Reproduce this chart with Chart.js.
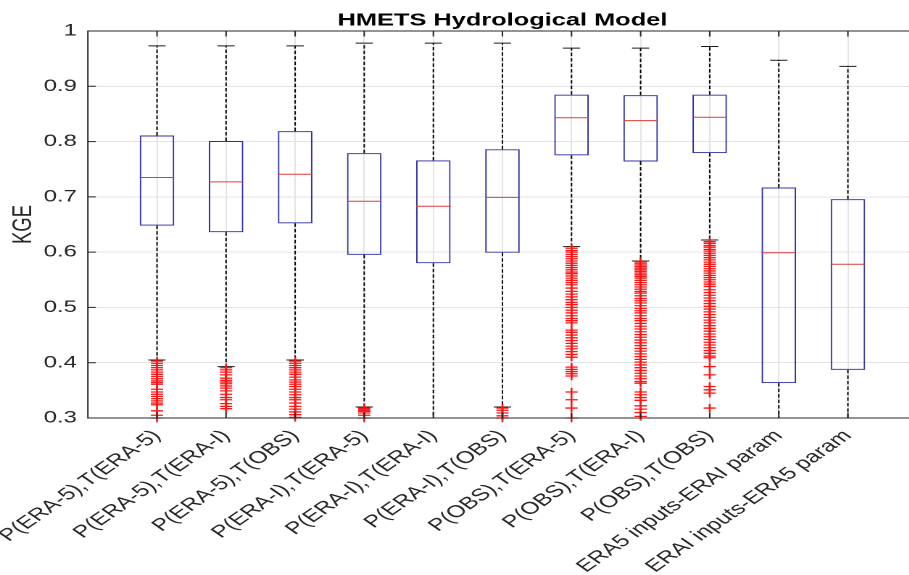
<!DOCTYPE html>
<html>

<head>
    <title>HMETS Hydrological Model</title>
    <script src="https://cdn.jsdelivr.net/npm/chart.js"></script>
    <style>
        html,
        body {
            margin: 0;
            padding: 0;
            background-color: white;
            overflow: hidden;
        }

        /* the source figure is stretched sideways, so the chart is drawn narrow and widened */
        .stretch {
            width: 640px;
            height: 575px;
            transform: scaleX(1.45);
            transform-origin: 0 0;
        }
    </style>
</head>

<body>
    <div class="stretch">
        <canvas id="kgeChart" width="640" height="575"></canvas>
    </div>

    <script>
        const categories = [
            'P(ERA-5),T(ERA-5)', 'P(ERA-5),T(ERA-I)', 'P(ERA-5),T(OBS)',
            'P(ERA-I),T(ERA-5)', 'P(ERA-I),T(ERA-I)', 'P(ERA-I),T(OBS)',
            'P(OBS),T(ERA-5)', 'P(OBS),T(ERA-I)', 'P(OBS),T(OBS)',
            'ERA5 inputs-ERAI param', 'ERAI inputs-ERA5 param'
        ];

        const whiskerHigh = [0.973, 0.973, 0.973, 0.978, 0.978, 0.978, 0.969, 0.969, 0.972, 0.947, 0.936];
        const q3 = [0.811, 0.801, 0.819, 0.779, 0.766, 0.786, 0.885, 0.884, 0.885, 0.717, 0.696];
        const median = [0.735, 0.727, 0.741, 0.692, 0.683, 0.699, 0.843, 0.838, 0.844, 0.599, 0.578];
        const q1 = [0.648, 0.636, 0.652, 0.595, 0.580, 0.599, 0.775, 0.764, 0.779, 0.363, 0.387];
        const whiskerLow = [0.405, 0.393, 0.405, 0.320, 0.300, 0.320, 0.610, 0.584, 0.622, 0.290, 0.290];

        const outliers = [
            [0.403, 0.399, 0.395, 0.391, 0.387, 0.383, 0.379, 0.375, 0.371, 0.367, 0.364, 0.361,
                0.352, 0.347, 0.343, 0.339, 0.335, 0.331, 0.327, 0.324, 0.313, 0.305, 0.300],
            [0.391, 0.387, 0.383, 0.378, 0.372, 0.368, 0.365, 0.362, 0.358, 0.354, 0.349, 0.343,
                0.337, 0.333, 0.326, 0.321, 0.317],
            [0.403, 0.399, 0.395, 0.391, 0.387, 0.383, 0.379, 0.374, 0.369, 0.365, 0.361, 0.357,
                0.352, 0.347, 0.342, 0.337, 0.333, 0.327, 0.321, 0.316, 0.311, 0.306, 0.301],
            [0.318, 0.316, 0.314, 0.312, 0.309, 0.305, 0.300],
            [],
            [0.318, 0.314, 0.309, 0.304, 0.300],
            [0.607, 0.603, 0.600, 0.596, 0.592, 0.588, 0.584, 0.580, 0.576, 0.572, 0.568, 0.564,
                0.561, 0.557, 0.553, 0.549, 0.545, 0.541, 0.535, 0.529, 0.524, 0.519, 0.514, 0.509,
                0.505, 0.500, 0.495, 0.490, 0.485, 0.480, 0.476, 0.472, 0.459, 0.455, 0.450, 0.445,
                0.440, 0.435, 0.430, 0.425, 0.420, 0.415, 0.410, 0.392, 0.388, 0.384, 0.380, 0.376,
                0.347, 0.333, 0.318, 0.300],
            [0.583, 0.580, 0.577, 0.574, 0.571, 0.568, 0.565, 0.562, 0.559, 0.556, 0.553, 0.549,
                0.545, 0.541, 0.537, 0.533, 0.529, 0.526, 0.521, 0.516, 0.512, 0.508, 0.503, 0.498,
                0.494, 0.490, 0.485, 0.480, 0.476, 0.471, 0.466, 0.461, 0.456, 0.451, 0.446, 0.441,
                0.436, 0.431, 0.426, 0.421, 0.416, 0.411, 0.406, 0.401, 0.396, 0.391, 0.386, 0.381,
                0.376, 0.371, 0.366, 0.363, 0.347, 0.342, 0.337, 0.332, 0.322, 0.316, 0.310, 0.303],
            [0.619, 0.616, 0.612, 0.609, 0.605, 0.602, 0.598, 0.594, 0.590, 0.586, 0.582, 0.578,
                0.574, 0.570, 0.566, 0.562, 0.558, 0.554, 0.550, 0.546, 0.542, 0.538, 0.532, 0.527,
                0.522, 0.517, 0.512, 0.507, 0.502, 0.497, 0.492, 0.487, 0.482, 0.477, 0.472, 0.467,
                0.462, 0.457, 0.452, 0.447, 0.442, 0.437, 0.432, 0.427, 0.422, 0.417, 0.412, 0.409,
                0.393, 0.378, 0.357, 0.351, 0.345, 0.318],
            [],
            []
        ];

        const yTicks = [0.3, 0.4, 0.5, 0.6, 0.7, 0.8, 0.9, 1];
        const yTickLabels = ['0.3', '0.4', '0.5', '0.6', '0.7', '0.8', '0.9', '1'];

        const FONT = "'Liberation Sans', Arial, sans-serif";
        const AXIS_COLOR = '#262626';
        const GRID_COLOR = '#e4e4e4';
        const BOX_COLOR = '#3030a8';
        const MEDIAN_COLOR = '#e03a3a';
        const OUTLIER_COLOR = '#ff1414';

        // half of a box or cap width, in pixels, from the x scale
        function halfWidth(chart, units) {
            const x = chart.scales.x;
            return Math.abs(x.getPixelForValue(units) - x.getPixelForValue(0));
        }

        const boxData = categories.map((c, i) => ({ x: i + 1, y: [q1[i], q3[i]] }));
        const medianData = categories.map((c, i) => ({ x: i + 1, y: median[i] }));
        const capData = [];
        const whiskerData = [];
        categories.forEach((c, i) => {
            capData.push({ x: i + 1, y: whiskerHigh[i] }, { x: i + 1, y: whiskerLow[i] });
            whiskerData.push(
                { x: i + 1, y: q3[i] }, { x: i + 1, y: whiskerHigh[i] }, { x: i + 1, y: null },
                { x: i + 1, y: q1[i] }, { x: i + 1, y: whiskerLow[i] }, { x: i + 1, y: null }
            );
        });
        const outlierData = [];
        outliers.forEach((list, i) => {
            list.forEach(v => outlierData.push({ x: i + 1, y: v }));
        });

        const frameAndTicks = {
            id: 'frameAndTicks',
            afterDraw(chart) {
                const { ctx, chartArea: a, scales: { x, y } } = chart;
                const tickLen = 5.5;
                ctx.save();
                ctx.strokeStyle = AXIS_COLOR;
                ctx.lineWidth = 1;
                ctx.beginPath();
                yTicks.forEach(v => {
                    const py = y.getPixelForValue(v);
                    ctx.moveTo(a.left, py);
                    ctx.lineTo(a.left + tickLen, py);
                    ctx.moveTo(a.right, py);
                    ctx.lineTo(a.right - tickLen, py);
                });
                categories.forEach((c, i) => {
                    const px = x.getPixelForValue(i + 1);
                    ctx.moveTo(px, a.bottom);
                    ctx.lineTo(px, a.bottom - tickLen);
                    ctx.moveTo(px, a.top);
                    ctx.lineTo(px, a.top + tickLen);
                });
                ctx.stroke();
                ctx.strokeRect(a.left, a.top, a.right - a.left, a.bottom - a.top);
                ctx.restore();
            }
        };

        const ctx = document.getElementById('kgeChart').getContext('2d');

        new Chart(ctx, {
            type: 'scatter',
            data: {
                datasets: [
                    {
                        type: 'scatter',
                        data: outlierData,
                        pointStyle: 'cross',
                        pointRadius: 4.2,
                        pointBorderColor: OUTLIER_COLOR,
                        pointBorderWidth: 1.3,
                        clip: false
                    },
                    {
                        type: 'scatter',
                        data: medianData,
                        pointStyle: 'line',
                        pointRadius: c => halfWidth(c.chart, 0.25),
                        pointBorderColor: MEDIAN_COLOR,
                        pointBorderWidth: 1
                    },
                    {
                        type: 'scatter',
                        data: capData,
                        pointStyle: 'line',
                        pointRadius: c => halfWidth(c.chart, 0.125),
                        pointBorderColor: '#1a1a1a',
                        pointBorderWidth: 1,
                        clip: 0
                    },
                    {
                        type: 'line',
                        data: whiskerData,
                        borderColor: '#000000',
                        borderWidth: 1,
                        borderDash: [3.5, 2],
                        pointRadius: 0,
                        spanGaps: false,
                        clip: 0
                    },
                    {
                        type: 'bar',
                        data: boxData,
                        backgroundColor: 'rgba(0, 0, 0, 0)',
                        borderColor: BOX_COLOR,
                        borderWidth: 1,
                        borderSkipped: false,
                        barPercentage: 0.5,
                        categoryPercentage: 1
                    }
                ]
            },
            options: {
                responsive: false,
                animation: false,
                devicePixelRatio: 2,
                events: [],
                layout: {
                    padding: { top: 0, left: 0, right: 7.6, bottom: 0 }
                },
                scales: {
                    x: {
                        type: 'linear',
                        min: 0,
                        max: 12,
                        offset: false,
                        afterBuildTicks: s => {
                            s.ticks = categories.map((c, i) => ({ value: i + 1 }));
                        },
                        afterFit: s => {
                            s.height = 157;
                            s.paddingLeft = 0;
                            s.paddingRight = 0;
                        },
                        grid: { color: GRID_COLOR, drawTicks: false, offset: false },
                        border: { display: false },
                        ticks: {
                            autoSkip: false,
                            minRotation: 45,
                            maxRotation: 45,
                            padding: 8,
                            color: AXIS_COLOR,
                            font: { family: FONT, size: 17 },
                            callback: (v, i) => categories[i]
                        }
                    },
                    y: {
                        min: 0.3,
                        max: 1,
                        afterBuildTicks: s => {
                            s.ticks = yTicks.map(v => ({ value: v }));
                        },
                        afterFit: s => {
                            s.width = 60.6;
                            s.paddingTop = 0;
                            s.paddingBottom = 0;
                        },
                        grid: { color: GRID_COLOR, drawTicks: false },
                        border: { display: false },
                        ticks: {
                            padding: 7.6,
                            color: AXIS_COLOR,
                            font: { family: FONT, size: 16.5 },
                            callback: (v, i) => yTickLabels[i]
                        },
                        title: {
                            display: true,
                            text: 'KGE',
                            color: AXIS_COLOR,
                            font: { family: FONT, size: 18.5 },
                            padding: { top: 5.4, bottom: 0 }
                        }
                    }
                },
                plugins: {
                    legend: { display: false },
                    tooltip: { enabled: false },
                    title: {
                        display: true,
                        text: 'HMETS Hydrological Model',
                        fullSize: false,
                        color: '#000000',
                        font: { family: FONT, size: 17.5, weight: 'bold' },
                        padding: { top: 10, bottom: 0 }
                    }
                }
            },
            plugins: [frameAndTicks]
        });
    </script>
</body>

</html>
